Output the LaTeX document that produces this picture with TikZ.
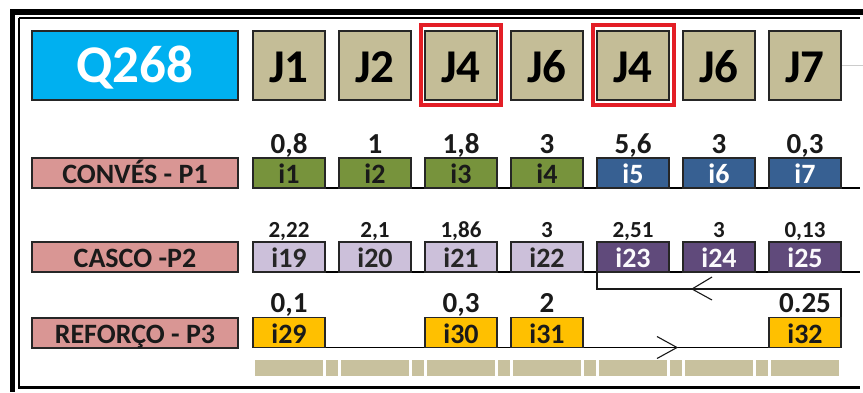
\documentclass[tikz,border=0pt]{standalone}
\usepackage{fontspec}
\setmainfont{Carlito}
\usetikzlibrary{calc}
\definecolor{qcyan}{HTML}{00B0F0}
\definecolor{jtan}{HTML}{C4BD97}
\definecolor{bartan}{HTML}{C8C19E}
\definecolor{lpink}{HTML}{D99694}
\definecolor{cgreen}{HTML}{77933C}
\definecolor{cblue}{HTML}{376092}
\definecolor{lpurp}{HTML}{CCC0DA}
\definecolor{dpurp}{HTML}{604A7B}
\definecolor{amber}{HTML}{FFC000}
\definecolor{frred}{HTML}{E31E26}
\definecolor{txtdark}{HTML}{1A1A1A}
\begin{document}
\begin{tikzpicture}[x=1pt,y=-1pt,
  boxbase/.style={draw=black!85, line width=1.2pt, inner sep=0pt, outer sep=0pt, anchor=north west, text depth=0pt},
  headbox/.style={boxbase, minimum width=72pt, minimum height=69pt, fill=jtan, text=black, text height=33pt, font=\bfseries\fontsize{47}{47}\selectfont},
  qbox/.style={boxbase, minimum width=206pt, minimum height=69pt, fill=qcyan, text=white, text height=33pt, font=\bfseries\fontsize{53}{53}\selectfont},
  labbox/.style={boxbase, minimum width=206pt, minimum height=30pt, fill=lpink, text=txtdark, text height=21pt, font=\bfseries\fontsize{28}{28}\selectfont},
  cell/.style={boxbase, minimum width=72pt, minimum height=30pt, text height=21pt, font=\bfseries\fontsize{28}{28}\selectfont},
  gcell/.style={cell, fill=cgreen, text=txtdark},
  bcell/.style={cell, fill=cblue, text=white},
  lpcell/.style={cell, fill=lpurp, text=black!85},
  dpcell/.style={cell, fill=dpurp, text=white!92!lpurp},
  acell/.style={cell, fill=amber, text=txtdark},
  val/.style={anchor=base, inner sep=0pt, text=txtdark, font=\bfseries\fontsize{29}{29}\selectfont},
  valr/.style={anchor=base, inner sep=0pt, text=txtdark, font=\bfseries\fontsize{23}{23}\selectfont},
  redframe/.style={draw=frred, line width=4pt},
  seg/.style={fill=bartan, draw=none, inner sep=0pt, outer sep=0pt, anchor=north west, minimum height=16pt},
  baseline/.style={draw=black, line width=1.2pt},
  conn/.style={draw=black!90, line width=1.2pt},
  chev/.style={draw=black!90, line width=1.1pt}
]
\useasboundingbox (0,0) rectangle (863,392);
\fill[white] (0,0) rectangle (863,392);
% frame
\draw[line width=6pt] (10,12) -- (863,12);
\draw[line width=5pt] (12.5,9) -- (12.5,392);
\draw[line width=2pt] (19,18) -- (860,18);
\draw[line width=2pt] (19,18) -- (19,387.5);
\draw[line width=3pt] (18,387.5) -- (860,387.5);
\coordinate (g1) at (841,65);
\coordinate (g2) at (863,65);
\draw[black!20, line width=1pt] (g1) -- (g2);

% header
\node[qbox] (q) at (32,31) {Q268};
\node[headbox] (j1) at (253,31) {J1};
\node[headbox] (j2) at (339,31) {J2};
\node[headbox] (j3) at (425,31) {J4};
\node[headbox] (j4) at (511,31) {J6};
\node[headbox] (j5) at (597,31) {J4};
\node[headbox] (j6) at (683,31) {J6};
\node[headbox] (j7) at (769,31) {J7};
\draw[redframe] ($(j3.north west)+(-4,-6)$) rectangle ($(j3.south east)+(4,5)$);
\draw[redframe] ($(j5.north west)+(-4,-6)$) rectangle ($(j5.south east)+(5,5)$);

% baselines
\coordinate (e1) at (860,188);
\coordinate (e2) at (860,272);
\draw[baseline] (253,188) -- (e1);
\draw[baseline] (253,272) -- (e2);

% row 1
\node[labbox] (p1) at (32,158) {CONVÉS - P1};
\node[gcell] (i1) at (253,158) {i1};
\node[gcell] (i2) at (339,158) {i2};
\node[gcell] (i3) at (425,158) {i3};
\node[gcell] (i4) at (511,158) {i4};
\node[bcell] (i5) at (597,158) {i5};
\node[bcell] (i6) at (683,158) {i6};
\node[bcell] (i7) at (769,158) {i7};
\node[val] (v1) at (289,153) {0,8};
\node[val] (v2) at (375,153) {1};
\node[val] (v3) at (461,153) {1,8};
\node[val] (v4) at (547,153) {3};
\node[val] (v5) at (633,153) {5,6};
\node[val] (v6) at (719,153) {3};
\node[val] (v7) at (805,153) {0,3};

% row 2
\node[labbox] (p2) at (32,242) {CASCO -P2};
\node[lpcell] (i19) at (253,242) {i19};
\node[lpcell] (i20) at (339,242) {i20};
\node[lpcell] (i21) at (425,242) {i21};
\node[lpcell] (i22) at (511,242) {i22};
\node[dpcell] (i23) at (597,242) {i23};
\node[dpcell] (i24) at (683,242) {i24};
\node[dpcell] (i25) at (769,242) {i25};
\node[valr] (w1) at (289,237) {2,22};
\node[valr] (w2) at (375,237) {2,1};
\node[valr] (w3) at (461,237) {1,86};
\node[valr] (w4) at (547,237) {3};
\node[valr] (w5) at (633,237) {2,51};
\node[valr] (w6) at (719,237) {3};
\node[valr] (w7) at (805,237) {0,13};

% row 3 line and connector
\node[labbox] (p3) at (32,318) {REFORÇO - P3};
\coordinate (turn) at ($(i23.south west)+(0,17)$);
\draw[baseline] (253,347.5) -- (841,347.5);
\draw[conn] (i23.south west) -- (turn) -| (841,347.5);
\node[acell] (i29) at (253,317.5) {i29};
\node[acell] (i30) at (425,317.5) {i30};
\node[acell] (i31) at (511,317.5) {i31};
\node[acell] (i32) at (769,317.5) {i32};
\node[val] (u1) at (289,312) {0,1};
\node[val] (u2) at (461,312) {0,3};
\node[val] (u3) at (547,312) {2};
\node[val] (u4) at (805,312) {0.25};

% chevrons
\coordinate (lt) at (692,289);
\coordinate (rt) at (677,347.5);
\draw[chev] ($(lt)+(20,-12)$) -- (lt) -- ($(lt)+(20,11)$);
\draw[chev] ($(rt)+(-20,-11)$) -- (rt) -- ($(rt)+(-20,11)$);

% bottom bar
\foreach \k in {0,...,6} {
  \node[seg, minimum width=68pt] (b\k) at (253+86*\k+2,360) {};
}
\foreach \k in {0,...,5} {
  \node[seg, minimum width=12pt] (n\k) at (253+86*\k+73,360) {};
}
\end{tikzpicture}
\end{document}
